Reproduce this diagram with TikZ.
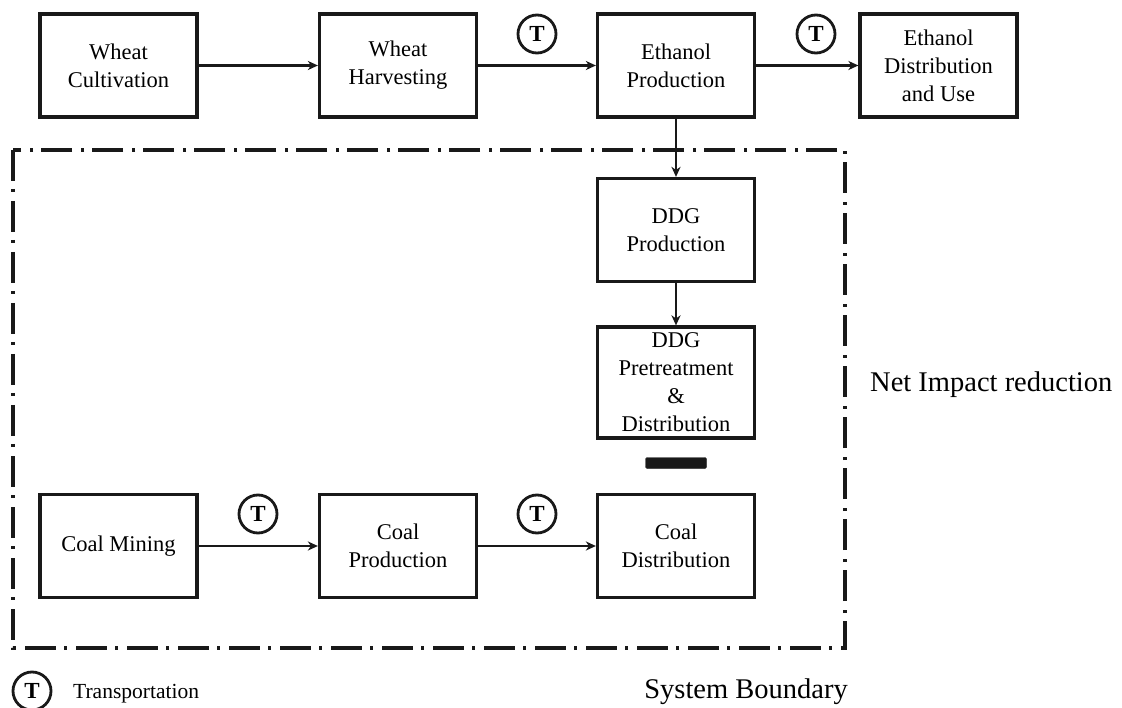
\documentclass[tikz,border=0pt]{standalone}
\usepackage{fontspec}
\setmainfont{Liberation Serif}
\usetikzlibrary{arrows.meta}
\begin{document}
\begin{tikzpicture}[x=1pt,y=-1pt,
  procbox/.style={draw=black!90, line width=3.2pt, minimum width=157pt, minimum height=103pt,
    inner sep=0pt, align=center, font=\fontsize{22.5}{28}\selectfont},
  flow/.style={draw=black!90, line width=2.4pt, -{Stealth[length=10pt,width=9pt,inset=3pt]}},
  tcirc/.style={draw=black!90, circle, line width=2.8pt, minimum size=38pt, inner sep=0pt,
    font=\fontsize{23}{23}\selectfont\bfseries},
  boundary/.style={draw=black!90, line width=3.3pt, dash pattern=on 31pt off 8pt on 3pt off 9pt},
  bigtext/.style={font=\fontsize{28.5}{30}\selectfont, inner sep=0pt},
  smalltext/.style={font=\fontsize{21.5}{24}\selectfont, inner sep=0pt}]
\useasboundingbox (0,0) rectangle (1122,708);

% system boundary
\draw[boundary] (13,150) rectangle (845,648);

% top row
\node[procbox] (wc) at (118.5,65.5) {Wheat\\Cultivation};
\node[procbox] (wh) at (398,65.5) {Wheat\\Harvesting};
\node[procbox] (ep) at (676,65.5) {Ethanol\\Production};
\node[procbox] (ed) at (938.5,65.5) {Ethanol\\Distribution\\and Use};

% DDG column
\node[procbox] (dp) at (676,230) {DDG\\Production};
\node[procbox, minimum height=111pt] (dt) at (676,382.5) {DDG\\Pretreatment\\\&\\Distribution};
\node[draw=black!90, fill=black!90, rounded corners=1.5pt, minimum width=61pt, minimum height=11pt, inner sep=0pt] (bar) at (676,463) {};

% bottom row
\node[procbox] (cm) at (118.5,546) {Coal Mining};
\node[procbox] (cp) at (398,546) {Coal\\Production};
\node[procbox] (cd) at (676,546) {Coal\\Distribution};

% transport markers
\node[tcirc] (t1) at (537,34) {T};
\node[tcirc] (t2) at (816,34) {T};
\node[tcirc] (t3) at (258,514) {T};
\node[tcirc] (t4) at (537,514) {T};

% arrows
\draw[flow] (wc.east) -- (wh.west);
\draw[flow] (wh.east) -- (ep.west);
\draw[flow] (ep.east) -- (ed.west);
\draw[flow] (ep.south) -- (dp.north);
\draw[flow] (dp.south) -- (dt.north);
\draw[flow] (cm.east) -- (cp.west);
\draw[flow] (cp.east) -- (cd.west);

% labels
\node[bigtext, anchor=base west] (nir) at (870,392) {Net Impact reduction};
\node[bigtext, anchor=base east] (sb) at (848,698) {System Boundary};
\node[tcirc] (tl) at (32,691) {T};
\node[smalltext, anchor=base west] (tr) at (73,698) {Transportation};
\end{tikzpicture}
\end{document}
